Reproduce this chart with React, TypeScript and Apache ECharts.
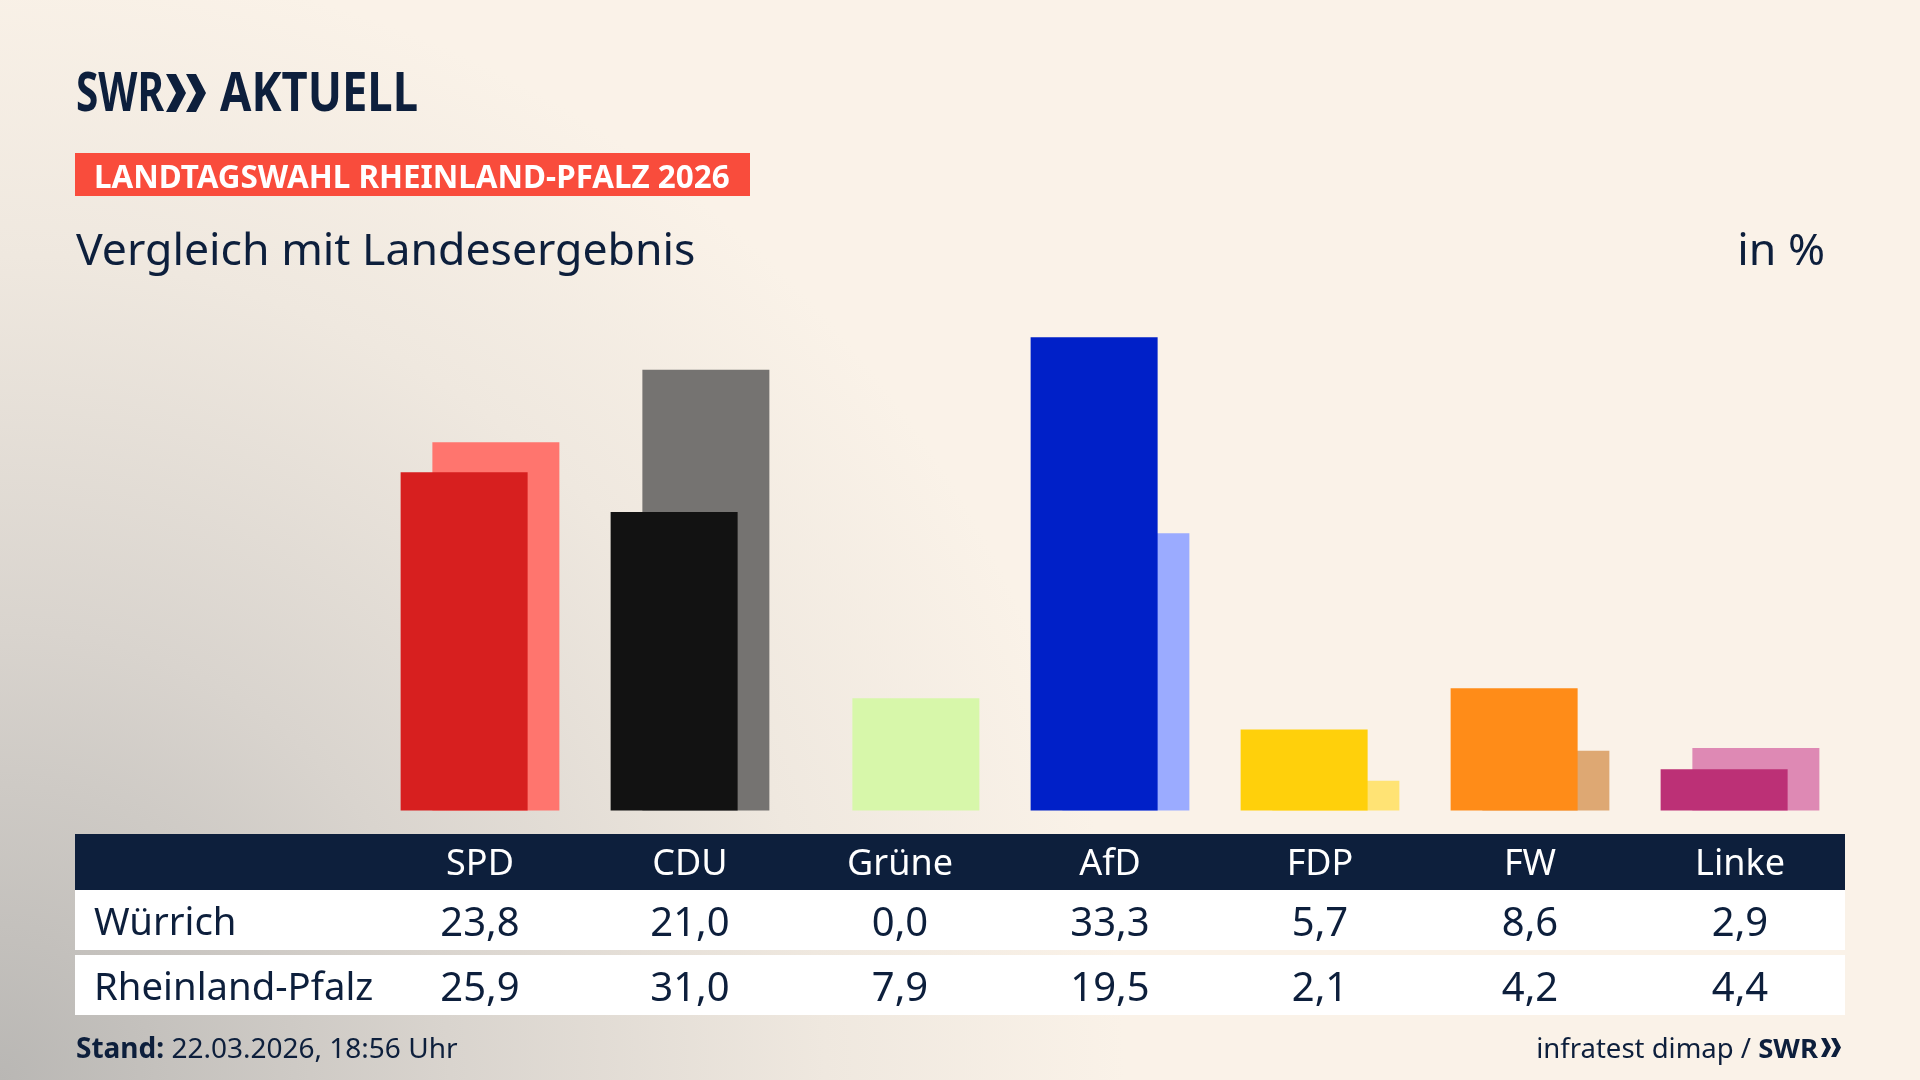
import React, { useEffect, useRef } from 'react';
import * as echarts from 'echarts';

// ---- data ----
const parties = ['SPD', 'CDU', 'Grüne', 'AfD', 'FDP', 'FW', 'Linke'];
const wuerrich = [23.8, 21.0, 0.0, 33.3, 5.7, 8.6, 2.9];
const landesergebnis = [25.9, 31.0, 7.9, 19.5, 2.1, 4.2, 4.4];
const rowLabels = ['Würrich', 'Rheinland-Pfalz'];
const frontColors = ['#D71F1F', '#121212', '#D7F7AA', '#0020C8', '#FFD00B', '#FF8C18', '#BC3076'];
const backColors = ['#FF756E', '#757371', '#D7F7AA', '#9BABFF', '#FFE374', '#DEA873', '#DE89B4'];
const yMax = 35;

// ---- layout ----
const W = 1920;
const H = 1080;
const GRID_LEFT = 375;
const GRID_RIGHT = 75;
const GRID_TOP = 313;
const GRID_BOTTOM = 269.5;
const NAVY = '#0D1F3C';
const FONT = '"Noto Sans", "Open Sans", sans-serif';

const fmt = (v: number) => v.toFixed(1).replace('.', ',');

function txt(text: string, x: number, y: number, font: string, fill: string, align = 'left', extra: any = {}) {
  return {
    type: 'text',
    x,
    y,
    z: 20,
    ...extra,
    style: {
      text,
      x: 0,
      y: 0,
      font,
      fill,
      align,
      textAlign: align,
      verticalAlign: 'middle',
      textVerticalAlign: 'middle',
      ...(extra.style || {}),
    },
  };
}

function chevrons(x0: number, top: number, bottom: number, arm: number, depth: number, step: number) {
  const mid = (top + bottom) / 2;
  return [0, 1].map((k) => {
    const x = x0 + k * step;
    return {
      type: 'polygon',
      z: 20,
      shape: {
        points: [
          [x, top],
          [x + arm, top],
          [x + arm + depth, mid],
          [x + arm, bottom],
          [x, bottom],
          [x + depth, mid],
        ],
      },
      style: { fill: NAVY },
    };
  });
}

export default function App() {
  const ref = useRef<HTMLDivElement>(null);

  useEffect(() => {
    document.body.style.margin = '0';
    const chart = echarts.init(ref.current!, null, { renderer: 'svg' });

    const gridWidth = W - GRID_LEFT - GRID_RIGHT;
    const band = gridWidth / parties.length;
    const colX = parties.map((_, i) => GRID_LEFT + (i + 0.5) * band);

    const tableLeft = 75;
    const tableWidth = 1770;
    const rows = [
      { y: 890, h: 60, values: wuerrich },
      { y: 955, h: 60, values: landesergebnis },
    ];

    const elements: any[] = [
      {
        type: 'rect',
        z: -10,
        shape: { x: 0, y: 0, width: W, height: H },
        style: {
          fill: {
            type: 'radial',
            x: 0,
            y: H,
            r: 1500,
            global: true,
            colorStops: [
              { offset: 0, color: '#B9B7B4' },
              { offset: 0.3, color: '#D9D4CE' },
              { offset: 0.55, color: '#EFE8DF' },
              { offset: 0.75, color: '#FAF2E8' },
              { offset: 1, color: '#FAF2E8' },
            ],
          },
        },
      },
      // logo
      txt('SWR', 76, 90.5, `bold 54px ${FONT}`, NAVY, 'left', { scaleX: 0.75 }),
      ...chevrons(166, 74, 112, 10, 10, 20),
      txt('AKTUELL', 220, 90.5, `bold 54px ${FONT}`, NAVY, 'left', { scaleX: 0.84 }),
      // red label
      { type: 'rect', z: 10, shape: { x: 75, y: 153, width: 675, height: 43 }, style: { fill: '#F94C3C' } },
      txt('LANDTAGSWAHL RHEINLAND-PFALZ 2026', 94, 175, `bold 31.4px ${FONT}`, '#FFFFFF'),
      // subtitle
      txt('Vergleich mit Landesergebnis', 76, 247, `44.6px ${FONT}`, NAVY),
      txt('in %', 1825, 247, `44.6px ${FONT}`, NAVY, 'right'),
      // table header
      { type: 'rect', z: -5, shape: { x: tableLeft, y: 834, width: tableWidth, height: 56 }, style: { fill: NAVY } },
    ];

    rows.forEach((r, ri) => {
      elements.push({
        type: 'rect',
        z: -5,
        shape: { x: tableLeft, y: r.y, width: tableWidth, height: r.h },
        style: { fill: '#FFFFFF' },
      });
      elements.push(txt(rowLabels[ri], 94, r.y + r.h / 2, `38.3px ${FONT}`, NAVY));
      r.values.forEach((v, i) => {
        elements.push(txt(fmt(v), colX[i], r.y + r.h / 2, `40px ${FONT}`, NAVY, 'center'));
      });
    });

    // footer
    elements.push({
      type: 'text',
      x: 76,
      y: 1047,
      z: 20,
      style: {
        text: '{b|Stand:} 22.03.2026, 18:56 Uhr',
        x: 0,
        y: 0,
        font: `28px ${FONT}`,
        fill: NAVY,
        align: 'left',
        textAlign: 'left',
        verticalAlign: 'middle',
        textVerticalAlign: 'middle',
        rich: { b: { font: `bold 28px ${FONT}`, fill: NAVY, fontWeight: 'bold', fontSize: 28, fontFamily: FONT } },
      },
    });
    elements.push({
      type: 'text',
      x: 1818,
      y: 1047,
      z: 20,
      style: {
        text: 'infratest dimap / {b|SWR}',
        x: 0,
        y: 0,
        font: `27.5px ${FONT}`,
        fill: NAVY,
        align: 'right',
        textAlign: 'right',
        verticalAlign: 'middle',
        textVerticalAlign: 'middle',
        rich: { b: { font: `bold 27.5px ${FONT}`, fill: NAVY, fontWeight: 'bold', fontSize: 27.5, fontFamily: FONT } },
      },
    });
    elements.push(...chevrons(1821, 1038, 1057, 5, 5, 10));

    const option: any = {
      animation: false,
      grid: { left: GRID_LEFT, right: GRID_RIGHT, top: GRID_TOP, bottom: GRID_BOTTOM, containLabel: false },
      xAxis: {
        type: 'category',
        data: parties,
        z: 10,
        axisLine: { show: false },
        axisTick: { show: false },
        splitLine: { show: false },
        axisLabel: {
          color: '#FFFFFF',
          fontSize: 36,
          fontFamily: FONT,
          margin: 50.5,
          verticalAlign: 'middle',
          interval: 0,
        },
      },
      yAxis: { type: 'value', min: 0, max: yMax, show: false, splitLine: { show: false } },
      series: [
        {
          type: 'bar',
          name: 'Würrich',
          z: 3,
          barWidth: 127,
          barGap: '-75%',
          data: wuerrich.map((v, i) => ({ value: v, itemStyle: { color: frontColors[i] } })),
        },
        {
          type: 'bar',
          name: 'Rheinland-Pfalz',
          z: 2,
          barWidth: 127,
          barGap: '-75%',
          data: landesergebnis.map((v, i) => ({ value: v, itemStyle: { color: backColors[i] } })),
        },
      ],
      graphic: { elements },
    };

    chart.setOption(option);
    return () => chart.dispose();
  }, []);

  return <div ref={ref} style={{ position: 'fixed', left: 0, top: 0, width: W, height: H }} />;
}
